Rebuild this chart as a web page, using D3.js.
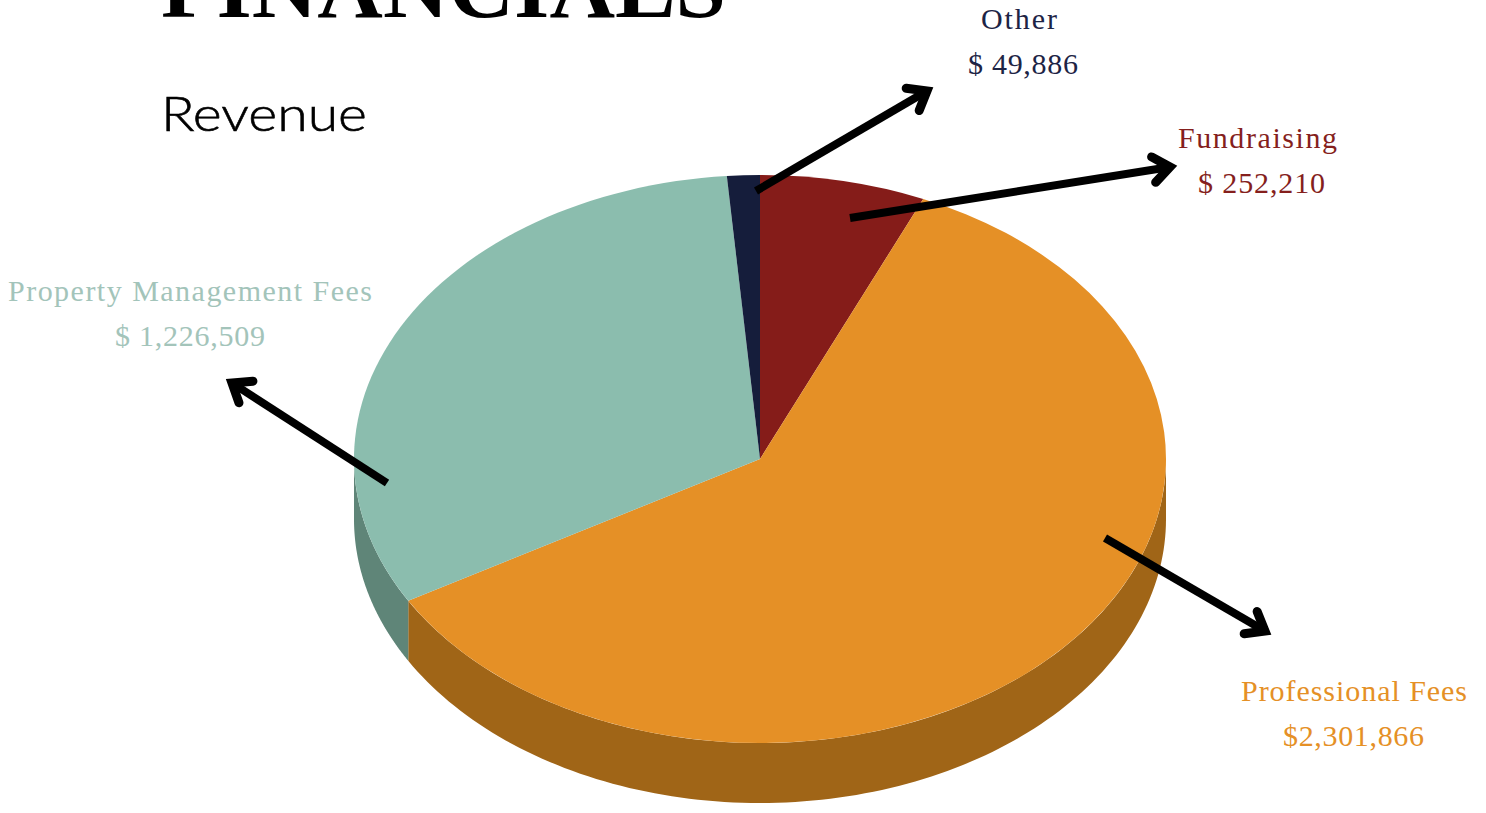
<!DOCTYPE html>
<html>
<head>
<meta charset="utf-8">
<script src="https://cdnjs.cloudflare.com/ajax/libs/d3/7.8.5/d3.min.js"></script>
<style>
html,body{margin:0;padding:0;background:#fff;overflow:hidden}
svg{display:block}
</style>
</head>
<body>
<svg id="chart" width="1486" height="813"></svg>
<script>
// Revenue by source, in dollars, clockwise from twelve o'clock
const categories = ["Fundraising", "Professional Fees", "Property Management Fees", "Other"];
const revenue = [252210, 2301866, 1226509, 49886];
const valueLabels = ["$ 252,210", "$2,301,866", "$ 1,226,509", "$ 49,886"];
const topColors = ["#851c19", "#e59026", "#8bbdae", "#151d3b"];
const wallColors = ["#5e1412", "#a06517", "#5f8578", "#0f142a"];
const labelColors = ["#851f1d", "#e59026", "#a3c4ba", "#1d2445"];

// Pie geometry: a circle squashed into an ellipse, extruded downward
const cx = 760, cy = 459, rx = 406, ry = 284, depth = 60;

// Label placement per category: left edge and width of the name and value lines, and the name baseline
const nameBox = [[1178, 159], [1241, 226], [8, 364], [981, 76]];
const valueBox = [[1198, 127], [1283, 141], [115, 150], [968, 110]];
const nameBaseline = [148, 701, 301, 29];
const lineGap = 45;

// Callout arrows: tail and centre-line tip
const arrows = [
  [[850, 218], [1170, 167]],
  [[1105, 538], [1265, 631]],
  [[387, 483], [232, 383]],
  [[756, 191], [927, 91]]
];

const svg = d3.select("#chart");
const pie = d3.pie().sort(null).value(d => d).startAngle(0).endAngle(2 * Math.PI);
const slices = pie(revenue);

const ex = a => cx + rx * Math.sin(a);
const ey = a => cy - ry * Math.cos(a);

// Extruded wall: only the front half of the rim (90 to 270 degrees) can be seen
const wallPath = d => {
  const a0 = Math.max(d.startAngle, Math.PI / 2);
  const a1 = Math.min(d.endAngle, 3 * Math.PI / 2);
  if (a1 <= a0) return null;
  const ts = d3.range(0, 121).map(i => a0 + (a1 - a0) * i / 120);
  const rim = ts.map(a => [ex(a), ey(a)]);
  const low = ts.slice().reverse().map(a => [ex(a), ey(a) + depth]);
  return d3.line()(rim.concat(low)) + "Z";
};

svg.append("g").selectAll("path")
  .data(slices)
  .join("path")
  .attr("d", wallPath)
  .attr("fill", (d, i) => wallColors[i]);

// Top face
const arc = d3.arc().innerRadius(0).outerRadius(rx);
svg.append("g")
  .attr("transform", `translate(${cx},${cy}) scale(1,${ry / rx})`)
  .selectAll("path")
  .data(slices)
  .join("path")
  .attr("d", arc)
  .attr("fill", (d, i) => topColors[i]);

// Heading
svg.append("text")
  .attr("x", 161).attr("y", 17)
  .attr("font-family", "Liberation Serif")
  .attr("font-weight", 700)
  .attr("font-size", 86)
  .attr("textLength", 565)
  .attr("lengthAdjust", "spacingAndGlyphs")
  .text("FINANCIALS");

// Light weight with a hairline stroke gives the medium-thin subheading
svg.append("text")
  .attr("x", 161).attr("y", 131)
  .attr("font-family", "Lato")
  .attr("font-weight", 300)
  .attr("font-size", 48)
  .attr("stroke", "#000")
  .attr("stroke-width", 0.6)
  .attr("textLength", 206)
  .attr("lengthAdjust", "spacingAndGlyphs")
  .text("Revenue");

// Category and value labels, stretched by letter spacing to their line widths
const labels = svg.append("g")
  .attr("font-family", "Liberation Serif")
  .attr("font-size", 30);

categories.forEach((name, i) => {
  labels.append("text")
    .attr("x", nameBox[i][0]).attr("y", nameBaseline[i])
    .attr("textLength", nameBox[i][1])
    .attr("fill", labelColors[i]).text(name);
  labels.append("text")
    .attr("x", valueBox[i][0]).attr("y", nameBaseline[i] + lineGap)
    .attr("textLength", valueBox[i][1])
    .attr("fill", labelColors[i]).text(valueLabels[i]);
});

// Arrows with short, round-ended chevron heads
const arrowG = svg.append("g")
  .attr("fill", "none").attr("stroke", "#000").attr("stroke-width", 8);

arrows.forEach(([tail, tip]) => {
  arrowG.append("path").attr("d", d3.line()([tail, tip]));
  const ang = Math.atan2(tip[1] - tail[1], tip[0] - tail[0]);
  const len = 21, spread = 0.66;
  const wing = s => [tip[0] - len * Math.cos(ang + s * spread), tip[1] - len * Math.sin(ang + s * spread)];
  arrowG.append("path")
    .attr("d", d3.line()([wing(1), tip, wing(-1)]))
    .attr("stroke-width", 9)
    .attr("stroke-linecap", "round")
    .attr("stroke-linejoin", "miter")
    .attr("stroke-miterlimit", 10);
});
</script>
</body>
</html>
